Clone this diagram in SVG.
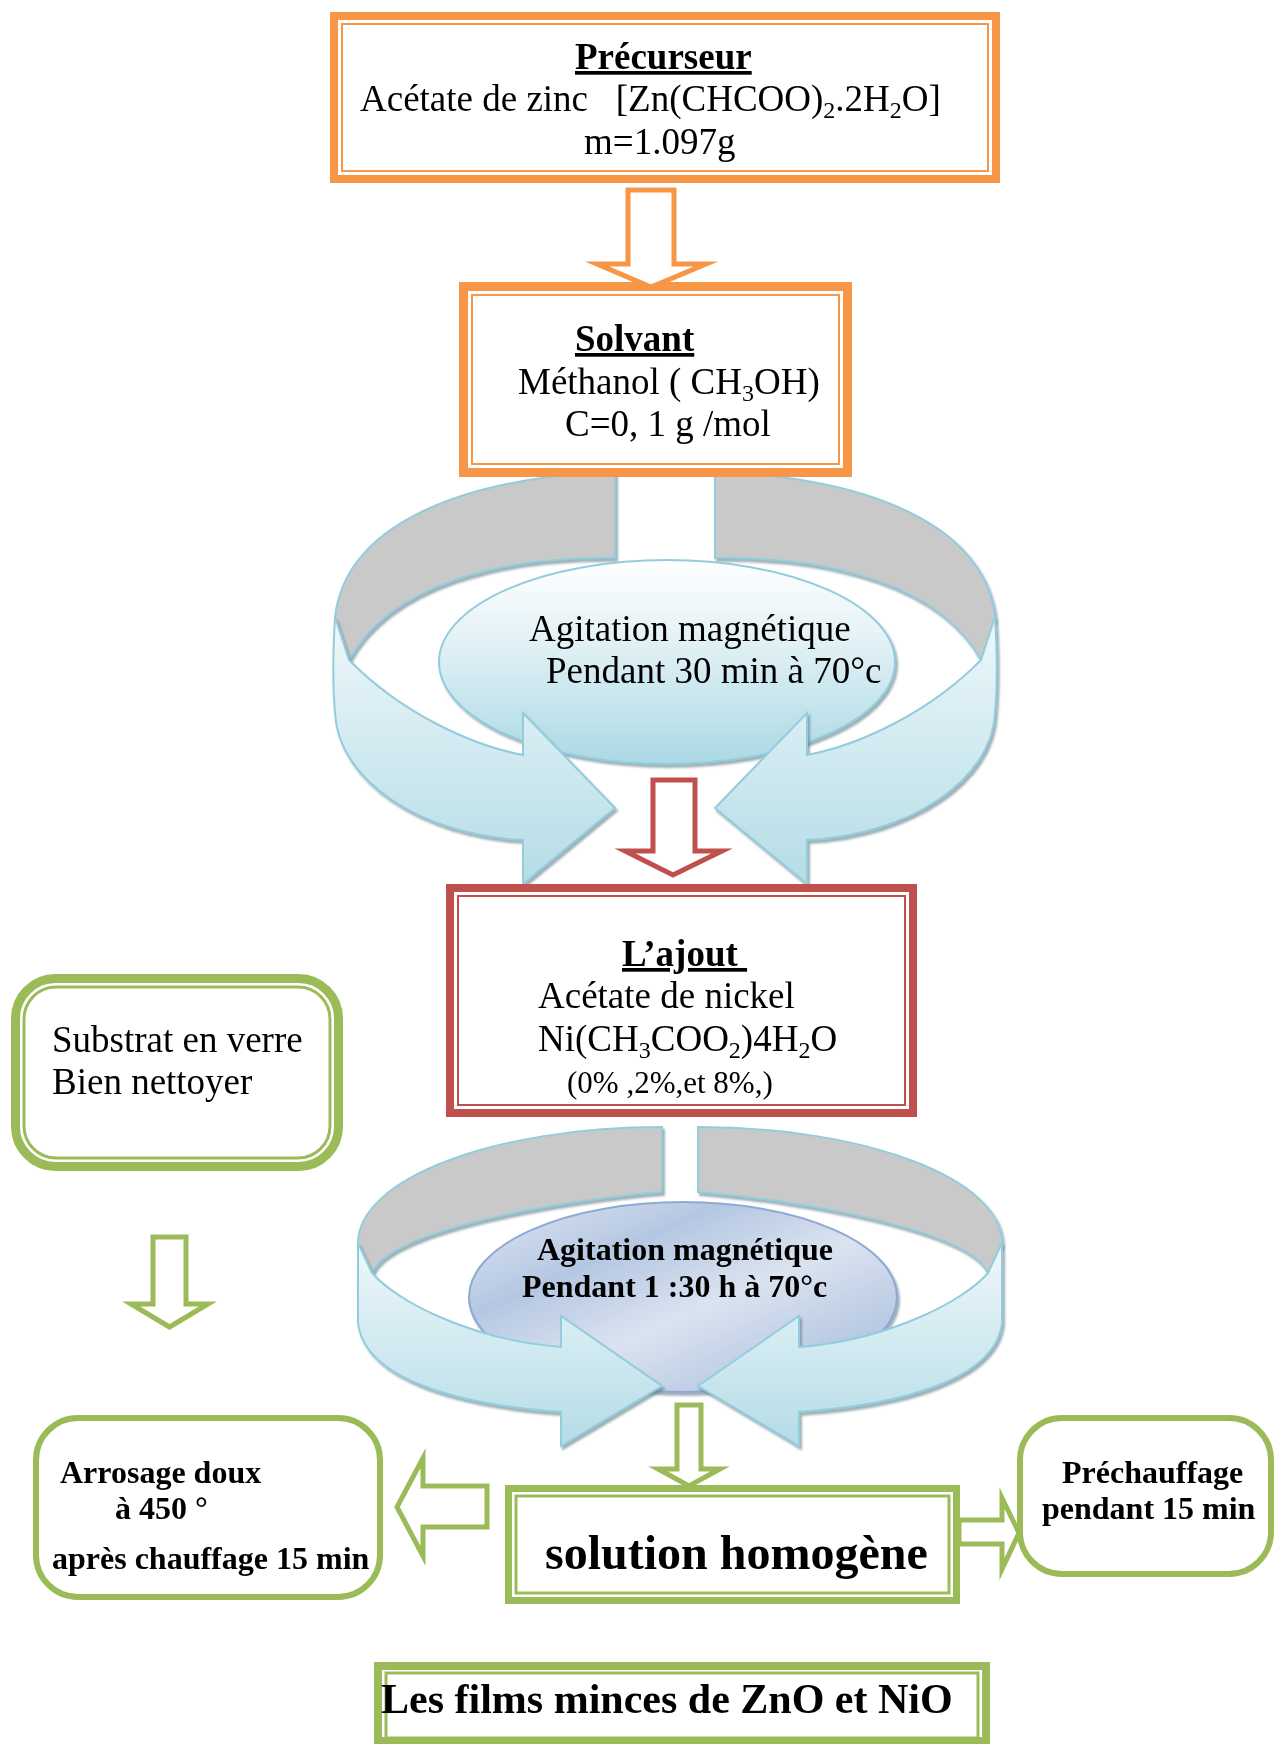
<svg xmlns="http://www.w3.org/2000/svg" width="1274" height="1744" viewBox="0 0 1274 1744">
<defs>
<style>
.t{font-family:"Liberation Serif","Times New Roman",serif;fill:#000}
.r{font-size:37px}
.b{font-weight:bold}
.u{text-decoration:underline}
.sub{font-size:24px}
.or{fill:none;stroke:#f79646}
.rd{fill:none;stroke:#c0504d}
.gr{fill:none;stroke:#9bbb59}
.arw{fill:#fff;stroke-width:5;stroke-linejoin:miter;stroke-miterlimit:10}
.gray{fill:#c9c9c9;stroke:#93cddd;stroke-width:2}
.band{fill:url(#band);stroke:#93cddd;stroke-width:2}
</style>
<linearGradient id="band" x1="0" y1="0" x2="0" y2="1">
<stop offset="0" stop-color="#eef7fa"/>
<stop offset="0.5" stop-color="#d2eaf1"/>
<stop offset="1" stop-color="#b5dce6"/>
</linearGradient>
<linearGradient id="ell1" x1="0" y1="0" x2="0" y2="1">
<stop offset="0" stop-color="#ffffff"/>
<stop offset="0.35" stop-color="#e6f3f7"/>
<stop offset="1" stop-color="#abd9e4"/>
</linearGradient>
<linearGradient id="ell2" x1="0" y1="0" x2="1" y2="1">
<stop offset="0" stop-color="#e2e9f3"/>
<stop offset="0.3" stop-color="#b4c7e2"/>
<stop offset="0.55" stop-color="#dbe3f0"/>
<stop offset="0.8" stop-color="#b9cae3"/>
<stop offset="1" stop-color="#a5bbdc"/>
</linearGradient>
<filter id="sh" x="-10%" y="-10%" width="130%" height="130%">
<feDropShadow dx="2" dy="3" stdDeviation="1" flood-color="#5f7d87" flood-opacity="0.6"/>
</filter>
<path id="r1g" class="gray" d="M615,472 L615,558 C500,556 390,585 349,660 L335,617 C345,530 450,478 615,472 Z"/>
<path id="r1b" class="band" d="M335,617 C333,650 333,690 335,713 C338,780 420,835 523,840 L523,884 L615,808 L523,713 L523,755 C470,745 400,712 349,660 Z"/>
<path id="r2g" class="gray" d="M662,1127 L662,1192 C560,1200 390,1230 372,1273 L358,1243 C358,1179 494,1127 662,1127 Z"/>
<path id="r2b" class="band" d="M358,1243 L358,1323 C365,1380 460,1405 561,1412 L561,1446 L662,1386 L561,1316 L561,1347 C470,1340 395,1300 372,1273 Z"/>
</defs>
<rect width="1274" height="1744" fill="#fff"/>

<g id="agitation1">
<g filter="url(#sh)"><use href="#r1g"/><use href="#r1g" transform="matrix(-1 0 0 1 1330 0)"/></g>
<ellipse cx="667" cy="662" rx="228" ry="102" fill="url(#ell1)" stroke="#93cddd" stroke-width="2" filter="url(#sh)"/>
<g filter="url(#sh)"><use href="#r1b"/><use href="#r1b" transform="matrix(-1 0 0 1 1330 0)"/></g>
<text class="t r" x="529" y="641">Agitation magnétique</text>
<text class="t r" x="546" y="683">Pendant 30 min à 70°c</text>
</g>

<g id="agitation2">
<g filter="url(#sh)"><use href="#r2g"/><use href="#r2g" transform="matrix(-1 0 0 1 1360 0)"/></g>
<ellipse cx="683" cy="1297" rx="214" ry="95" fill="url(#ell2)" stroke="#8eaad4" stroke-width="2" filter="url(#sh)"/>
<g filter="url(#sh)"><use href="#r2b"/><use href="#r2b" transform="matrix(-1 0 0 1 1360 0)"/></g>
<text class="t b" font-size="32" x="537" y="1260">Agitation magnétique</text>
<text class="t b" font-size="32" x="522" y="1297">Pendant 1 :30 h à 70°c</text>
</g>

<g id="precurseur">
<rect class="or" x="334" y="16" width="662" height="163" stroke-width="8"/>
<rect class="or" x="342" y="24" width="646" height="147" stroke-width="2"/>
<text class="t r b u" x="575" y="69">Précurseur</text>
<text class="t r" x="360" y="111" xml:space="preserve">Acétate de zinc   [Zn(CHCOO)<tspan class="sub" dy="7">2</tspan><tspan dy="-7">.2H</tspan><tspan class="sub" dy="7">2</tspan><tspan dy="-7">O]</tspan></text>
<text class="t r" x="584" y="154">m=1.097g</text>
</g>

<g id="solvant">
<rect class="or" x="463.5" y="286.5" width="384" height="186" stroke-width="9"/>
<rect class="or" x="472" y="295" width="367" height="169" stroke-width="2"/>
<text class="t r b u" x="575" y="351">Solvant</text>
<text class="t r" x="518" y="394">Méthanol ( CH<tspan class="sub" dy="7">3</tspan><tspan dy="-7">OH)</tspan></text>
<text class="t r" x="565" y="436">C=0, 1 g /mol</text>
</g>

<g id="ajout">
<rect class="rd" x="450" y="888" width="463" height="225" stroke-width="8"/>
<rect class="rd" x="458" y="896" width="447" height="209" stroke-width="2"/>
<text class="t r b u" x="622" y="966" xml:space="preserve">L’ajout </text>
<text class="t r" x="538" y="1008">Acétate de nickel</text>
<text class="t r" x="538" y="1051">Ni(CH<tspan class="sub" dy="7">3</tspan><tspan dy="-7">COO</tspan><tspan class="sub" dy="7">2</tspan><tspan dy="-7">)4H</tspan><tspan class="sub" dy="7">2</tspan><tspan dy="-7">O</tspan></text>
<text class="t" font-size="31" x="567" y="1093" xml:space="preserve">(0% ,2%,et 8%,)</text>
</g>

<g id="substrat">
<rect class="gr" x="15.5" y="978.5" width="323" height="188" rx="40" stroke-width="9"/>
<rect class="gr" x="24" y="987" width="306" height="171" rx="32" stroke-width="3"/>
<text class="t r" x="52" y="1052">Substrat en verre</text>
<text class="t r" x="52" y="1094">Bien nettoyer</text>
</g>

<g id="solution">
<rect class="gr" x="508.5" y="1488.5" width="448" height="112" stroke-width="7"/>
<rect class="gr" x="516" y="1496" width="433" height="97" stroke-width="3"/>
<text class="t b" font-size="48" x="545" y="1569">solution homogène</text>
</g>

<g id="arrosage">
<rect class="gr" x="36" y="1418" width="344" height="179" rx="42" stroke-width="6"/>
<text class="t b" font-size="32" x="60" y="1483">Arrosage doux</text>
<text class="t b" font-size="32" x="115" y="1519">à 450 °</text>
<text class="t b" font-size="32" x="52" y="1569">après chauffage 15 min</text>
</g>

<g id="prechauffage">
<rect class="gr" x="1020" y="1418" width="251" height="156" rx="42" stroke-width="6"/>
<text class="t b" font-size="32" x="1062" y="1483">Préchauffage</text>
<text class="t b" font-size="32" x="1042" y="1519">pendant 15 min</text>
</g>

<g id="films">
<rect class="gr" x="378" y="1666" width="608" height="75" stroke-width="8"/>
<rect class="gr" x="386" y="1673" width="592" height="65" stroke-width="3"/>
<text class="t b" font-size="42" x="381" y="1713">Les films minces de ZnO et NiO</text>
</g>

<g id="connectors">
<polygon class="arw" stroke="#f79646" points="628,190 674,190 674,264 706,264 651,287 597,264 628,264"/>
<polygon class="arw" stroke="#c0504d" points="653,780 695,780 695,851 722,851 673,875 625,851 653,851"/>
<polygon class="arw" stroke="#9bbb59" points="153,1237 186,1237 186,1304 208,1304 169.5,1327 131,1304 153,1304"/>
<polygon class="arw" stroke="#9bbb59" points="677,1405 701,1405 701,1469 720,1469 689,1486 658,1469 677,1469"/>
<polygon class="arw" stroke="#9bbb59" points="487,1486 487,1527 423,1527 423,1556 397,1507 423,1458 423,1486"/>
<polygon class="arw" stroke="#9bbb59" points="959,1520 1002,1520 1002,1498 1019,1533 1002,1569 1002,1544 959,1544"/>
</g>
</svg>
